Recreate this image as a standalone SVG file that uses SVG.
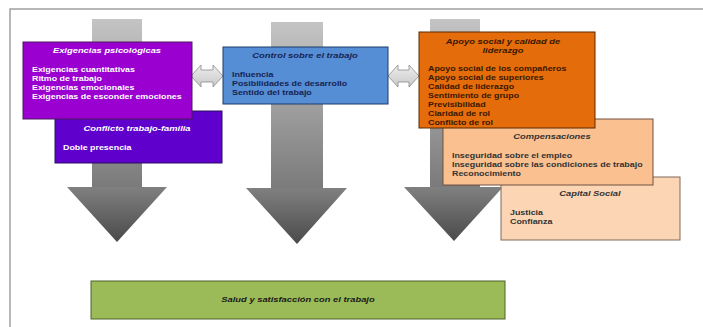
<svg xmlns="http://www.w3.org/2000/svg" width="703" height="327" viewBox="0 0 703 327">
<defs>
<linearGradient id="shaft" x1="0" y1="0" x2="0" y2="1">
<stop offset="0" stop-color="#c4c4c4"/>
<stop offset="1" stop-color="#7a7a7a"/>
</linearGradient>
<linearGradient id="head" x1="0" y1="0" x2="0" y2="1">
<stop offset="0" stop-color="#808080"/>
<stop offset="1" stop-color="#4a4a4a"/>
</linearGradient>
<linearGradient id="dbl" x1="0" y1="0" x2="0" y2="1">
<stop offset="0" stop-color="#eeeeee"/>
<stop offset="1" stop-color="#c8c8c8"/>
</linearGradient>
</defs>
<style>
text{font-family:"Liberation Sans",Arial,sans-serif;font-weight:bold;font-size:7.4px}
.t{font-style:italic;font-size:7.8px;text-anchor:middle}
.w{fill:#ffffff}
.nv{fill:#172452}
.br{fill:#3a1800}
.dk{fill:#333333}
.box{stroke-width:1}
.frame{stroke:#a0a0a0;stroke-width:1.5;fill:none}
</style>
<rect width="703" height="327" fill="#ffffff"/>
<path class="frame" d="M10,327 V9 H703"/>

<g id="connectors">
<g id="arrow-left">
<rect x="92" y="19" width="50" height="169" fill="url(#shaft)"/>
<polygon points="67,187 167,187 117,242" fill="url(#head)"/>
</g>
<g id="arrow-mid">
<rect x="271" y="22" width="52" height="167" fill="url(#shaft)"/>
<polygon points="246,188 347,188 297,244" fill="url(#head)"/>
</g>
<g id="arrow-right">
<rect x="430" y="19" width="50" height="169" fill="url(#shaft)"/>
<polygon points="404,187 503,187 454,241" fill="url(#head)"/>
</g>
<polygon id="dbl-left" points="191,76 201,65 201,70 213,70 213,65 223,76 213,87 213,82 201,82 201,87" fill="url(#dbl)" stroke="#8a8a8a" stroke-width="0.8"/>
<polygon id="dbl-right" points="388,76 398,65 398,70 409,70 409,65 419,76 409,87 409,82 398,82 398,87" fill="url(#dbl)" stroke="#8a8a8a" stroke-width="0.8"/>
</g>

<g id="conflicto">
<rect class="box" x="55" y="111" width="167" height="52" fill="#6000cc" stroke="#2a1060"/>
<g transform="translate(137,0) scale(1.2,1)"><text class="t w" x="0" y="131">Conflicto trabajo-familia</text></g>
<g transform="translate(63,0) scale(1.2,1)"><text class="w" x="0" y="150">Doble presencia</text></g>
</g>

<g id="exigencias">
<rect class="box" x="23" y="42" width="169" height="77" fill="#9a00d0" stroke="#4a1a5a"/>
<g transform="translate(107,0) scale(1.2,1)"><text class="t w" x="0" y="53">Exigencias psicológicas</text></g>
<g transform="translate(32,0) scale(1.2,1)" class="w">
<text class="w" x="0" y="72">Exigencias cuantitativas</text>
<text class="w" x="0" y="81">Ritmo de trabajo</text>
<text class="w" x="0" y="90">Exigencias emocionales</text>
<text class="w" x="0" y="99">Exigencias de esconder emociones</text>
</g>
</g>

<g id="control">
<rect class="box" x="223" y="47" width="165" height="57" fill="#558ed5" stroke="#1f3a6a"/>
<g transform="translate(305,0) scale(1.2,1)"><text class="t nv" x="0" y="58">Control sobre el trabajo</text></g>
<g transform="translate(232,0) scale(1.2,1)">
<text class="nv" x="0" y="77">Influencia</text>
<text class="nv" x="0" y="86">Posibilidades de desarrollo</text>
<text class="nv" x="0" y="95">Sentido del trabajo</text>
</g>
</g>

<g id="capital">
<rect class="box" x="501" y="177" width="179" height="63" fill="#fcd5b4" stroke="#7f6a5a"/>
<g transform="translate(590,0) scale(1.2,1)"><text class="t dk" x="0" y="196">Capital Social</text></g>
<g transform="translate(510,0) scale(1.2,1)">
<text class="dk" x="0" y="215">Justicia</text>
<text class="dk" x="0" y="224">Confianza</text>
</g>
</g>

<g id="compensaciones">
<rect class="box" x="443" y="119" width="210" height="66" fill="#fac090" stroke="#6f5040"/>
<g transform="translate(552,0) scale(1.2,1)"><text class="t dk" x="0" y="139">Compensaciones</text></g>
<g transform="translate(452,0) scale(1.2,1)">
<text class="dk" x="0" y="158">Inseguridad sobre el empleo</text>
<text class="dk" x="0" y="167">Inseguridad sobre las condiciones de trabajo</text>
<text class="dk" x="0" y="176">Reconocimiento</text>
</g>
</g>

<g id="apoyo">
<rect class="box" x="419" y="32" width="176" height="96" fill="#e46c0a" stroke="#5a2a00"/>
<g transform="translate(503,0) scale(1.2,1)">
<text class="t br" x="0" y="44">Apoyo social y calidad de</text>
<text class="t br" x="0" y="53">liderazgo</text>
</g>
<g transform="translate(428,0) scale(1.2,1)">
<text class="br" x="0" y="71">Apoyo social de los compañeros</text>
<text class="br" x="0" y="80">Apoyo social de superiores</text>
<text class="br" x="0" y="89">Calidad de liderazgo</text>
<text class="br" x="0" y="98">Sentimiento de grupo</text>
<text class="br" x="0" y="107">Previsibilidad</text>
<text class="br" x="0" y="116">Claridad de rol</text>
<text class="br" x="0" y="125">Conflicto de rol</text>
</g>
</g>

<g id="salud">
<rect class="box" x="91" y="281" width="414" height="38" fill="#9bbb59" stroke="#4f6228"/>
<g transform="translate(298,0) scale(1.2,1)"><text class="t" x="0" y="302" fill="#1a1a1a">Salud y satisfacción con el trabajo</text></g>
</g>
</svg>
